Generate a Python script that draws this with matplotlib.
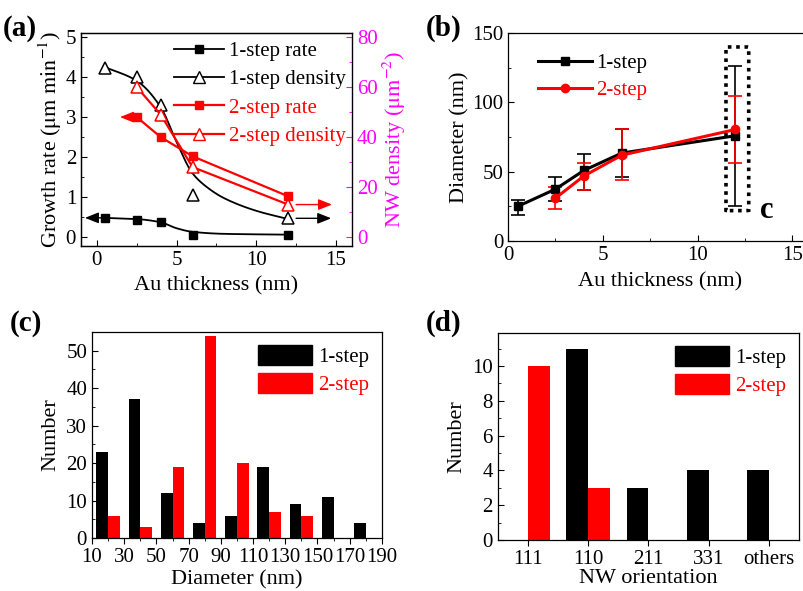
import matplotlib
matplotlib.use("Agg")
import matplotlib.pyplot as plt
import numpy as np
from matplotlib.lines import Line2D
from matplotlib.patches import Patch, FancyBboxPatch
from matplotlib.ticker import MultipleLocator

plt.rcParams.update({
    "font.family": "Liberation Serif",
    "font.size": 15,
    "axes.linewidth": 0.9,
    "xtick.direction": "in",
    "ytick.direction": "in",
    "xtick.major.size": 4,
    "ytick.major.size": 4,
    "xtick.minor.size": 2,
    "ytick.minor.size": 2,
    "mathtext.fontset": "stix",
})

MAG = "#ff00ff"
RED = "#ff0000"

# -----------------------------
# Data, panel (a)
# -----------------------------
au_1 = [0.5, 2.5, 4, 6, 12]
rate_1 = [0.48, 0.43, 0.37, 0.06, 0.06]
dens_1 = [67.5, 64, 53, 17, 7.5]          # um^-2

au_2 = [2.5, 4, 6, 12]
rate_2 = [3.0, 2.5, 2.02, 1.02]
dens_2 = [60, 49, 28, 13]

# guide curves drawn through the black data
fit_x_rate = [0.5, 2.5, 4, 5, 6, 8, 12]
fit_rate_1 = [0.48, 0.45, 0.37, 0.22, 0.13, 0.08, 0.06]
fit_x_dens = [0.5, 2.5, 4, 5, 6, 7, 8, 10, 12]
fit_dens_1 = [68, 62.5, 52, 38, 25.5, 19.5, 15.5, 10.5, 7.2]

# -----------------------------
# Data, panel (b)
# -----------------------------
dia_x1 = [0.5, 2.5, 4, 6, 12]
dia_1 = [25, 37.5, 51, 63.5, 76]
dia_1_lo = [19, 29, 37, 46, 25]
dia_1_hi = [30, 46, 63, 81, 126]

dia_x2 = [2.5, 4, 6, 12]
dia_2 = [31, 47, 62, 80.5]
dia_2_lo = [23, 37, 44, 56]
dia_2_hi = [39, 56, 81, 105]

# -----------------------------
# Data, panel (c)
# -----------------------------
bins_c = [20, 40, 60, 80, 100, 120, 140, 160, 180]
hist_1 = [23, 37, 12, 4, 6, 19, 9, 11, 4]
hist_2 = [6, 3, 19, 54, 20, 7, 6, 0, 0]

# -----------------------------
# Data, panel (d)
# -----------------------------
orient = ["111", "110", "211", "331", "others"]
orient_1 = [0, 11, 3, 4, 4]
orient_2 = [10, 3, 0, 0, 0]


def pchip(x, y, xs):
    x = np.asarray(x, float)
    y = np.asarray(y, float)
    h = np.diff(x)
    d = np.diff(y) / h
    m = np.zeros_like(y)
    for i in range(1, len(x) - 1):
        if d[i - 1] * d[i] > 0:
            w1 = 2 * h[i] + h[i - 1]
            w2 = h[i] + 2 * h[i - 1]
            m[i] = (w1 + w2) / (w1 / d[i - 1] + w2 / d[i])
    m[0] = d[0]
    m[-1] = d[-1]
    out = np.empty_like(xs)
    for j, xv in enumerate(xs):
        i = min(max(np.searchsorted(x, xv) - 1, 0), len(x) - 2)
        t = (xv - x[i]) / h[i]
        h00 = 2 * t**3 - 3 * t**2 + 1
        h10 = t**3 - 2 * t**2 + t
        h01 = -2 * t**3 + 3 * t**2
        h11 = t**3 - t**2
        out[j] = h00 * y[i] + h10 * h[i] * m[i] + h01 * y[i + 1] + h11 * h[i] * m[i + 1]
    return out


fig = plt.figure(figsize=(8.04, 5.91), dpi=100)

# =========================================================
# (a)
# =========================================================
ax = fig.add_axes([0.1007, 0.584, 0.337, 0.36])
ax2 = ax.twinx()

xs = np.linspace(0.5, 12, 200)
ax.plot(xs, pchip(fit_x_rate, fit_rate_1, xs), color="k", lw=1.3)
ax.plot(au_1, rate_1, ls="none", marker="s", ms=6, color="k")
ax.plot(au_2, rate_2, color=RED, lw=1.6, marker="s", ms=6)

ax2.plot(xs, pchip(fit_x_dens, fit_dens_1, xs), color="k", lw=1.3)
ax2.plot(au_1, dens_1, ls="none", marker="^", ms=8, mfc="white", mec="k", mew=1.1)
ax2.plot(au_2, dens_2, color=RED, lw=1.6, marker="^", ms=8, mfc="white", mec=RED, mew=1.1)

# axis arrows
arr = dict(arrowstyle="-|>,head_length=0.55,head_width=0.22", lw=1.0,
           shrinkA=0, shrinkB=0)
ax.annotate("", xy=(-0.75, rate_1[0]), xytext=(0.25, rate_1[0]),
            arrowprops=dict(color="k", **arr))
ax.annotate("", xy=(1.45, rate_2[0]), xytext=(2.25, rate_2[0]),
            arrowprops=dict(color=RED, **arr))
ax2.annotate("", xy=(14.7, dens_1[-1]), xytext=(12.5, dens_1[-1]),
             arrowprops=dict(color="k", **arr))
ax2.annotate("", xy=(14.75, dens_2[-1]), xytext=(12.5, dens_2[-1]),
             arrowprops=dict(color=RED, **arr))

ax.set_xlim(-1, 16)
ax.set_ylim(-0.22, 5.1)
ax2.set_ylim(-0.22 * 16, 5.1 * 16)
ax.set_xticks([0, 5, 10, 15])
ax.xaxis.set_minor_locator(MultipleLocator(2.5))
ax.set_yticks([0, 1, 2, 3, 4, 5])
ax.yaxis.set_minor_locator(MultipleLocator(0.5))
ax2.set_yticks([0, 20, 40, 60, 80])
ax2.yaxis.set_minor_locator(MultipleLocator(10))
ax.tick_params(which="both", top=False)
ax2.spines["right"].set_color(MAG)
ax2.tick_params(axis="y", which="both", colors=MAG, labelcolor=MAG)
ax.set_xlabel("Au thickness (nm)", fontsize=16, labelpad=5)
ax.set_ylabel(r"Growth rate ($\mathrm{\mu m\ min^{-1}}$)", fontsize=16, labelpad=1)
ax2.set_ylabel(r"NW density ($\mathrm{\mu m^{-2}}$)", fontsize=16, color=MAG, labelpad=2)

h_a = [
    Line2D([], [], color="k", marker="s", ms=6, lw=1.3),
    Line2D([], [], color="k", marker="^", ms=8, mfc="white", lw=1.3),
    Line2D([], [], color=RED, marker="s", ms=6, lw=1.6),
    Line2D([], [], color=RED, marker="^", ms=8, mfc="white", lw=1.6),
]
leg = ax.legend(h_a, ["1-step rate", "1-step density", "2-step rate", "2-step density"],
                loc="upper right", frameon=False, fontsize=15, handlelength=2.4,
                labelspacing=0.42, handletextpad=0.25, borderaxespad=0.0,
                bbox_to_anchor=(1.01, 1.0))
for t, c in zip(leg.get_texts(), ["k", "k", RED, RED]):
    t.set_color(c)
ax.set_zorder(ax2.get_zorder() + 1)
ax.patch.set_visible(False)
fig.text(0.004, 0.94, "(a)", fontsize=21, fontweight="bold")

# =========================================================
# (b)
# =========================================================
bx = fig.add_axes([0.632, 0.592, 0.377, 0.352])
bx.errorbar(dia_x1, dia_1,
            yerr=[np.subtract(dia_1, dia_1_lo), np.subtract(dia_1_hi, dia_1)],
            color="k", lw=2.2, marker="s", ms=6, elinewidth=1.2, capsize=5,
            capthick=1.2, label="1-step")
bx.errorbar(dia_x2, dia_2,
            yerr=[np.subtract(dia_2, dia_2_lo), np.subtract(dia_2_hi, dia_2)],
            color=RED, lw=2.2, marker="o", ms=6, elinewidth=1.2, capsize=5,
            capthick=1.2, label="2-step")
box = FancyBboxPatch((11.5, 22), 1.2, 118, boxstyle="round,pad=0,rounding_size=0.2",
                     fill=False, ls=(0, (1, 1.3)), lw=2.6, ec="k", zorder=5)
bx.add_patch(box)
bx.text(13.3, 22, "c", fontsize=22, fontweight="bold", va="center", ha="left")
bx.set_xlim(0, 16)
bx.set_ylim(0, 150)
bx.set_xticks([0, 5, 10, 15])
bx.xaxis.set_minor_locator(MultipleLocator(2.5))
bx.set_yticks([0, 50, 100, 150])
bx.yaxis.set_minor_locator(MultipleLocator(25))
bx.tick_params(which="both", top=False, right=False)
bx.set_xlabel("Au thickness (nm)", fontsize=16, labelpad=5)
bx.set_ylabel("Diameter (nm)", fontsize=16, labelpad=2)
h_b = [
    Line2D([], [], color="k", marker="s", ms=6, lw=2.2),
    Line2D([], [], color=RED, marker="o", ms=6, lw=2.2),
]
leg = bx.legend(h_b, ["1-step", "2-step"], loc="upper left", frameon=False,
                fontsize=15, handlelength=2.6, labelspacing=0.35,
                handletextpad=0.2, bbox_to_anchor=(0.07, 0.94), borderaxespad=0)
for t, c in zip(leg.get_texts(), ["k", RED]):
    t.set_color(c)
fig.text(0.53, 0.94, "(b)", fontsize=21, fontweight="bold")

# =========================================================
# (c)
# =========================================================
w = 7.3
cx = fig.add_axes([0.1144, 0.0897, 0.3606, 0.3485])
cx.bar(np.array(bins_c) - w / 2, hist_1, width=w, color="k")
cx.bar(np.array(bins_c) + w / 2, hist_2, width=w, color=RED)
cx.set_xlim(10, 190)
cx.set_ylim(0, 55)
cx.set_xticks(range(10, 191, 20))
cx.xaxis.set_minor_locator(MultipleLocator(10))
cx.set_yticks(range(0, 51, 10))
cx.yaxis.set_minor_locator(MultipleLocator(5))
cx.tick_params(axis="x", which="both", direction="out")
cx.tick_params(which="both", top=False, right=False)
cx.set_xlabel("Diameter (nm)", fontsize=16, labelpad=2)
cx.set_ylabel("Number", fontsize=16, labelpad=4)
leg = cx.legend([Patch(color="k"), Patch(color=RED)], ["1-step", "2-step"],
                loc="upper right", frameon=False, fontsize=15, handlelength=2.6,
                handleheight=1.1, labelspacing=0.3, handletextpad=0.3,
                borderaxespad=0.2)
for t, c in zip(leg.get_texts(), ["k", RED]):
    t.set_color(c)
fig.text(0.012, 0.44, "(c)", fontsize=21, fontweight="bold")

# =========================================================
# (d)
# =========================================================
wd = 0.36
pos = np.arange(len(orient))
dx = fig.add_axes([0.619, 0.0863, 0.3748, 0.3502])
dx.bar(pos - wd / 2, orient_1, width=wd, color="k")
dx.bar(pos + wd / 2, orient_2, width=wd, color=RED)
dx.set_xlim(-0.5, 4.5)
dx.set_ylim(0, 11.9)
dx.set_xticks(pos)
dx.set_xticklabels(orient)
dx.set_yticks(range(0, 11, 2))
dx.yaxis.set_minor_locator(MultipleLocator(1))
dx.tick_params(axis="x", which="both", direction="out")
dx.tick_params(which="both", top=False, right=False)
dx.set_xlabel("NW orientation", fontsize=16, labelpad=0)
dx.set_ylabel("Number", fontsize=16, labelpad=4)
leg = dx.legend([Patch(color="k"), Patch(color=RED)], ["1-step", "2-step"],
                loc="upper right", frameon=False, fontsize=15, handlelength=2.6,
                handleheight=1.1, labelspacing=0.3, handletextpad=0.3,
                borderaxespad=0.2)
for t, c in zip(leg.get_texts(), ["k", RED]):
    t.set_color(c)
fig.text(0.53, 0.44, "(d)", fontsize=21, fontweight="bold")

fig.savefig("out.png", dpi=100)
